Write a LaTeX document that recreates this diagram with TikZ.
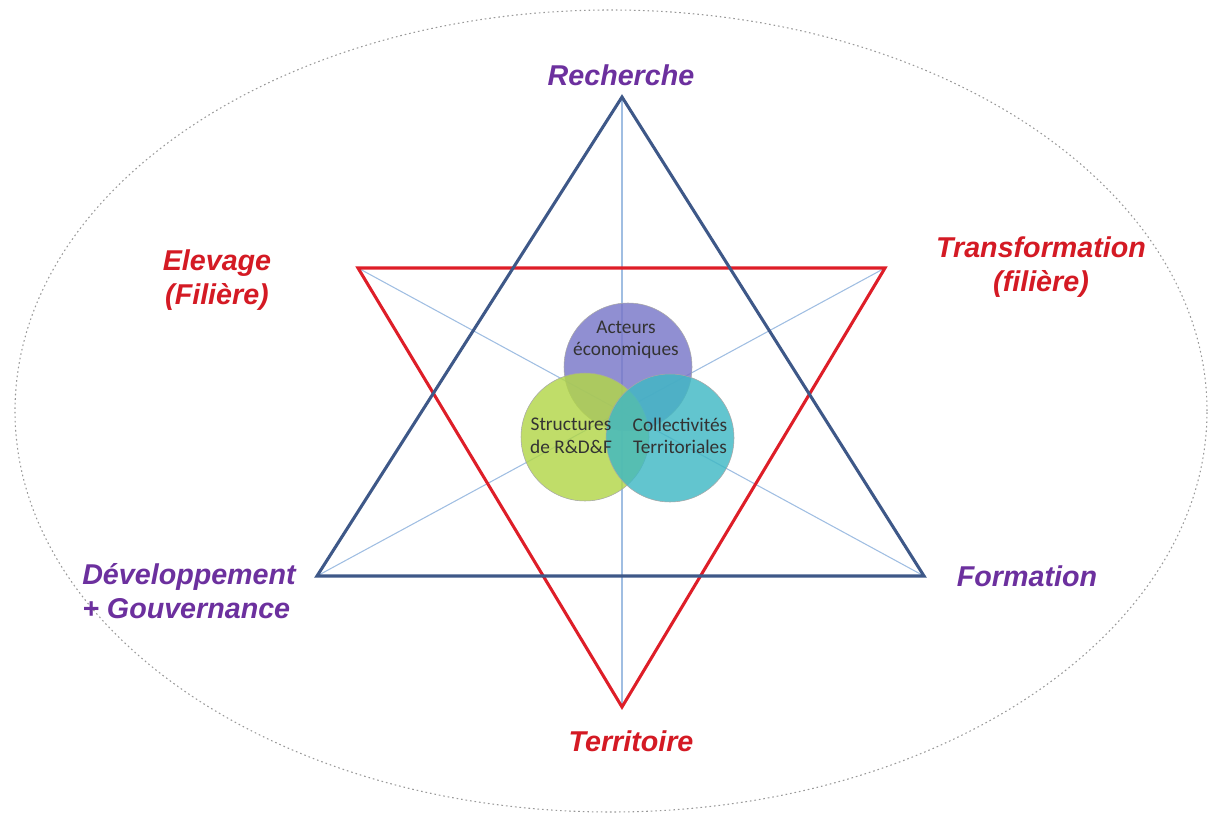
\documentclass[tikz,border=0pt]{standalone}
\usepackage{fontspec}
\setmainfont{Liberation Sans}
\newfontfamily\circfont{Carlito}
\definecolor{labpurple}{RGB}{108,48,158}
\definecolor{labred}{RGB}{212,26,36}
\definecolor{triblue}{RGB}{62,88,136}
\definecolor{trired}{RGB}{222,30,40}
\definecolor{thinblue}{RGB}{160,190,226}
\definecolor{cpurple}{RGB}{120,118,200}
\definecolor{cgreen}{RGB}{178,214,72}
\definecolor{cteal}{RGB}{64,184,196}
\begin{document}
\begin{tikzpicture}[x=0.75pt,y=-0.75pt,
  lab/.style={font=\fontsize{21.5}{25.5}\selectfont\bfseries\itshape, inner sep=0pt},
  purplelab/.style={lab, text=labpurple},
  redlab/.style={lab, text=labred},
  spoke/.style={draw=thinblue, line width=0.8pt},
  bluetri/.style={draw=triblue, line width=2.3pt, line join=miter},
  redtri/.style={draw=trired, line width=2.3pt, line join=miter},
  bubble/.style={circle, minimum size=128*0.75pt, inner sep=0pt, draw=black!35, line width=0.4pt, fill opacity=0.82, text opacity=1},
  bubtext/.style={font=\circfont\fontsize{14.5}{17}\selectfont, text=black!80, align=center, inner sep=0pt},
  halo/.style={draw=gray!80, line width=0.8pt, dash pattern=on 1.2pt off 2.2pt}
]
\useasboundingbox (0,0) rectangle (1210,816);
% outer ellipse
\draw[halo] (611,411) ellipse [x radius=596*0.75pt, y radius=401*0.75pt];
% vertices
\coordinate (R) at (622,97);
\coordinate (D) at (317,576);
\coordinate (F) at (924,576);
\coordinate (E) at (358,268);
\coordinate (T) at (885,268);
\coordinate (B) at (622,707);
% spokes
\draw[spoke] (R) -- (B);
\draw[spoke] (E) -- (F);
\draw[spoke] (T) -- (D);
% triangles
\draw[redtri] (E) -- (T) -- (B) -- cycle;
\draw[bluetri] (R) -- (F) -- (D) -- cycle;
% circles
\node[bubble, fill=cpurple] (ae) at (628,367) {};
\node[bubble, fill=cgreen] (st) at (585,437) {};
\node[bubble, fill=cteal] (ct) at (670,438) {};
\node[bubtext] (aet) at (626,340) {Acteurs\\économiques};
\node[bubtext] (stt) at (571,436) {Structures\\de R\&D\&F};
\node[bubtext] (ctt) at (680,436) {Collectivités\\Territoriales};
% labels
\node[purplelab] (lR) at (621,75) {Recherche};
\node[redlab, align=center] (lE) at (217,280) {Elevage\\(Filière)};
\node[redlab, align=center] (lT) at (1041,267) {Transformation\\(filière)};
\node[purplelab, align=left, anchor=west] (lD) at (82,591) {Développement\\+ Gouvernance};
\node[purplelab] (lF) at (1027,576) {Formation};
\node[redlab] (lB) at (631,741) {Territoire};
\end{tikzpicture}
\end{document}
